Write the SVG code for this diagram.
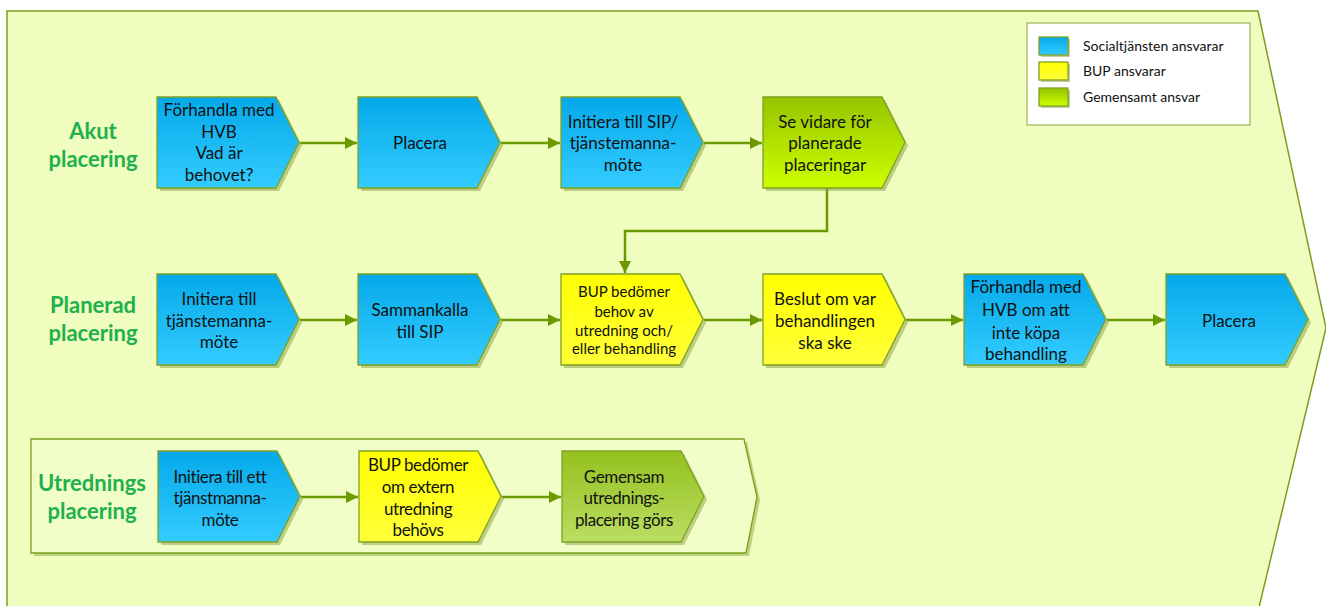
<svg xmlns="http://www.w3.org/2000/svg" width="1326" height="606" viewBox="0 0 1326 606">
<defs>
<linearGradient id="gBlue" x1="0" y1="0" x2="0" y2="1"><stop offset="0" stop-color="#05a9e9"/><stop offset="1" stop-color="#33ccff"/></linearGradient>
<linearGradient id="gYellow" x1="0" y1="0" x2="0" y2="1"><stop offset="0" stop-color="#ffff00"/><stop offset="1" stop-color="#ffff3a"/></linearGradient>
<linearGradient id="gGreen" x1="0" y1="0" x2="0" y2="1"><stop offset="0" stop-color="#96c400"/><stop offset="1" stop-color="#ccff00"/></linearGradient>
<linearGradient id="gOlive" x1="0" y1="0" x2="0" y2="1"><stop offset="0" stop-color="#94c11e"/><stop offset="1" stop-color="#bade62"/></linearGradient>
<polygon id="shape" points="0,0 119,0 142,45.5 119,91 0,91"/>
<marker id="arr" markerWidth="12" markerHeight="12" refX="12" refY="6" orient="auto" markerUnits="userSpaceOnUse"><path d="M0,0 L12,6 L0,12 Z" fill="#6b9a00"/></marker>
</defs>
<style>
.shadow{fill:#8fa84a;opacity:0.55}
.node{stroke:#7fa026;stroke-width:1.3}
.blue{fill:url(#gBlue)}
.yellow{fill:url(#gYellow)}
.green{fill:url(#gGreen)}
.olive{fill:url(#gOlive)}
.t{font-family:Lato,"Liberation Sans",sans-serif;font-size:17px;fill:#111;text-anchor:middle}
.ts{font-family:Lato,"Liberation Sans",sans-serif;font-size:15px;fill:#111;text-anchor:middle}
.tc{font-family:Lato,"Liberation Sans",sans-serif;font-size:17px;fill:#111;text-anchor:middle;letter-spacing:-0.4px}
.lbl{font-family:Lato,"Liberation Sans",sans-serif;font-size:22px;font-weight:bold;fill:#22b04e;text-anchor:middle}
.leg{font-family:Lato,"Liberation Sans",sans-serif;font-size:14px;fill:#111}
.conn{fill:none;stroke:#6b9a00;stroke-width:2.5;marker-end:url(#arr)}
</style>

<g id="background">
<polygon points="7,11 1258,11 1326,328 1250,645 7,645" fill="#effdbf" stroke="#7a9e1e" stroke-width="1.5"/>
</g>

<g id="utredning-container">
<polygon points="34,442 747,442 760,500 749,556 34,556" fill="#a8c060" opacity="0.7"/>
<polygon points="31,439 744,439 757,497 746,553 31,553" fill="#f1fec8" stroke="#7a9e1e" stroke-width="1.3"/>
</g>

<g id="legend">
<rect x="1027" y="23" width="223" height="102" fill="#ffffff" stroke="#8aa83a" stroke-width="1"/>
<rect x="1041" y="39" width="29" height="18" class="shadow"/>
<rect x="1039" y="37" width="29" height="18" class="blue node"/>
<rect x="1041" y="64" width="29" height="18" class="shadow"/>
<rect x="1039" y="62" width="29" height="18" class="yellow node"/>
<rect x="1041" y="90" width="29" height="18" class="shadow"/>
<rect x="1039" y="88" width="29" height="18" class="green node"/>
<text class="leg" x="1083" y="51">Socialtjänsten ansvarar</text>
<text class="leg" x="1083" y="76">BUP ansvarar</text>
<text class="leg" x="1083" y="102">Gemensamt ansvar</text>
</g>

<g id="labels">
<text class="lbl" x="93" y="139">Akut</text>
<text class="lbl" x="93" y="167">placering</text>
<text class="lbl" x="93" y="313">Planerad</text>
<text class="lbl" x="93" y="341">placering</text>
<text class="lbl" x="92" y="491">Utrednings</text>
<text class="lbl" x="92" y="519">placering</text>
</g>

<g id="connectors">
<line class="conn" x1="300" y1="143" x2="357" y2="143"/>
<line class="conn" x1="501" y1="143" x2="560" y2="143"/>
<line class="conn" x1="704" y1="143" x2="762" y2="143"/>
<polyline class="conn" points="827,188 827,231 625,231 625,273"/>
<line class="conn" x1="300" y1="320" x2="357" y2="320"/>
<line class="conn" x1="501" y1="320" x2="560" y2="320"/>
<line class="conn" x1="704" y1="320" x2="762" y2="320"/>
<line class="conn" x1="906" y1="320" x2="963" y2="320"/>
<line class="conn" x1="1107" y1="320" x2="1165" y2="320"/>
<line class="conn" x1="301" y1="497" x2="358" y2="497"/>
<line class="conn" x1="502" y1="497" x2="561" y2="497"/>
</g>

<g id="a1">
<use href="#shape" x="160" y="100" class="shadow"/>
<use href="#shape" x="157" y="97" class="node blue"/>
<text class="t" x="219" y="116">Förhandla med</text>
<text class="t" x="219" y="138">HVB</text>
<text class="t" x="219" y="159">Vad är</text>
<text class="t" x="219" y="181">behovet?</text>
</g>
<g id="a2">
<use href="#shape" x="361" y="100" class="shadow"/>
<use href="#shape" x="358" y="97" class="node blue"/>
<text class="t" x="420" y="149">Placera</text>
</g>
<g id="a3">
<use href="#shape" x="564" y="100" class="shadow"/>
<use href="#shape" x="561" y="97" class="node blue"/>
<text class="t" x="623" y="128">Initiera till SIP/</text>
<text class="t" x="623" y="149">tjänstemanna-</text>
<text class="t" x="623" y="171">möte</text>
</g>
<g id="a4">
<use href="#shape" x="766" y="100" class="shadow"/>
<use href="#shape" x="763" y="97" class="node green"/>
<text class="t" x="825" y="128">Se vidare för</text>
<text class="t" x="825" y="149">planerade</text>
<text class="t" x="825" y="171">placeringar</text>
</g>

<g id="p1">
<use href="#shape" x="160" y="277" class="shadow"/>
<use href="#shape" x="157" y="274" class="node blue"/>
<text class="t" x="219" y="305">Initiera till</text>
<text class="t" x="219" y="327">tjänstemanna-</text>
<text class="t" x="219" y="348">möte</text>
</g>
<g id="p2">
<use href="#shape" x="361" y="277" class="shadow"/>
<use href="#shape" x="358" y="274" class="node blue"/>
<text class="t" x="420" y="316">Sammankalla</text>
<text class="t" x="420" y="338">till SIP</text>
</g>
<g id="p3">
<use href="#shape" x="564" y="277" class="shadow"/>
<use href="#shape" x="561" y="274" class="node yellow"/>
<text class="ts" x="624" y="297">BUP bedömer</text>
<text class="ts" x="624" y="317">behov av</text>
<text class="ts" x="624" y="336">utredning och/</text>
<text class="ts" x="624" y="354">eller behandling</text>
</g>
<g id="p4">
<use href="#shape" x="766" y="277" class="shadow"/>
<use href="#shape" x="763" y="274" class="node yellow"/>
<text class="t" x="825" y="305">Beslut om var</text>
<text class="t" x="825" y="327">behandlingen</text>
<text class="t" x="825" y="349">ska ske</text>
</g>
<g id="p5">
<use href="#shape" x="967" y="277" class="shadow"/>
<use href="#shape" x="964" y="274" class="node blue"/>
<text class="t" x="1026" y="293">Förhandla med</text>
<text class="t" x="1026" y="316">HVB om att</text>
<text class="t" x="1026" y="339">inte köpa</text>
<text class="t" x="1026" y="360">behandling</text>
</g>
<g id="p6">
<use href="#shape" x="1169" y="277" class="shadow"/>
<use href="#shape" x="1166" y="274" class="node blue"/>
<text class="t" x="1229" y="327">Placera</text>
</g>

<g id="u1">
<use href="#shape" x="161" y="454" class="shadow"/>
<use href="#shape" x="158" y="451" class="node blue"/>
<text class="tc" x="220" y="483">Initiera till ett</text>
<text class="tc" x="220" y="504">tjänstmanna-</text>
<text class="tc" x="220" y="526">möte</text>
</g>
<g id="u2">
<use href="#shape" x="362" y="454" class="shadow"/>
<use href="#shape" x="359" y="451" class="node yellow"/>
<text class="tc" x="418" y="471">BUP bedömer</text>
<text class="tc" x="418" y="493">om extern</text>
<text class="tc" x="418" y="515">utredning</text>
<text class="tc" x="418" y="536">behövs</text>
</g>
<g id="u3">
<use href="#shape" x="565" y="454" class="shadow"/>
<use href="#shape" x="562" y="451" class="node olive"/>
<text class="tc" x="624" y="483">Gemensam</text>
<text class="tc" x="624" y="504">utrednings-</text>
<text class="tc" x="624" y="526">placering görs</text>
</g>
</svg>
